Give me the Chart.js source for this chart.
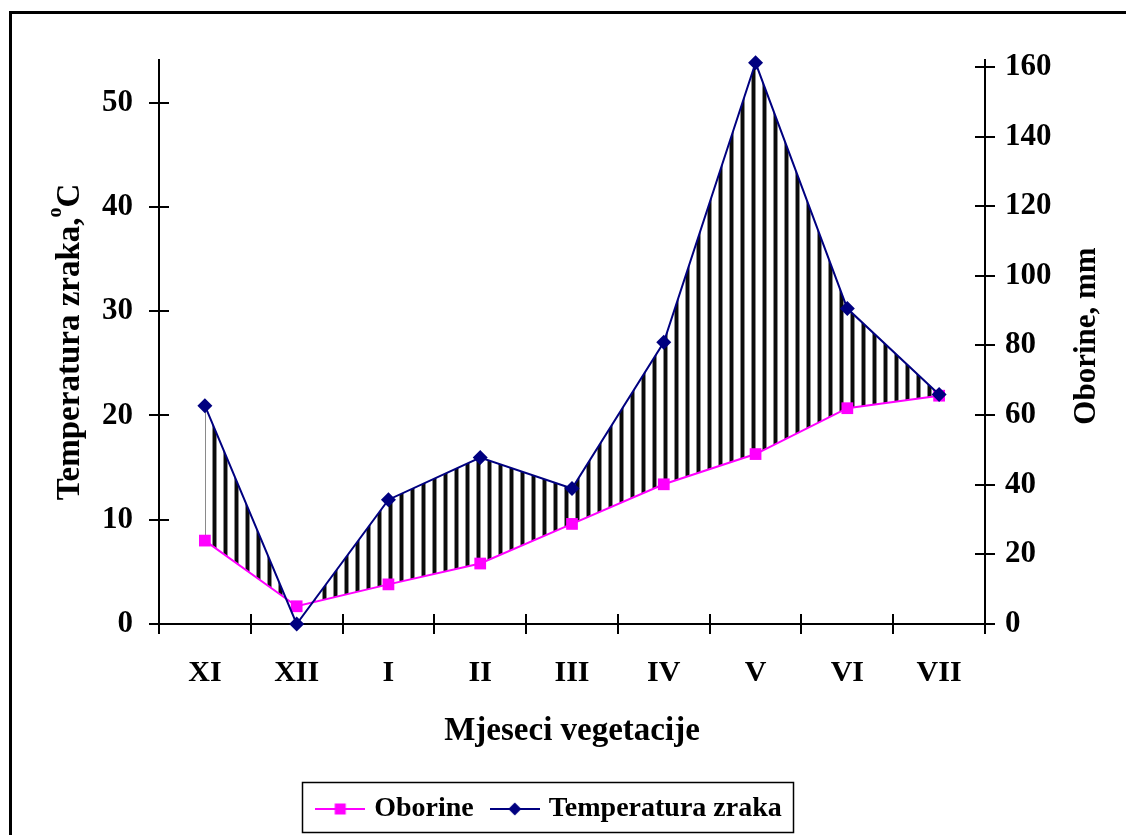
<!DOCTYPE html>
<html>
<head>
<meta charset="utf-8">
<script src="https://cdn.jsdelivr.net/npm/chart.js@4.4.1/dist/chart.umd.min.js"></script>
<style>
  html, body { margin: 0; padding: 0; background: #ffffff; overflow: hidden; }
  #frame { position: absolute; left: 9px; top: 11px; width: 1140px; height: 850px; border: 3px solid #000; box-sizing: border-box; }
  #wrap { position: absolute; left: 0; top: 0; width: 1126px; height: 835px; }
</style>
</head>
<body>
<div id="frame"></div>
<div id="wrap"><canvas id="c" width="1126" height="835"></canvas></div>
<script>
// ---- data ----
const months = ['XI', 'XII', 'I', 'II', 'III', 'IV', 'V', 'VI', 'VII'];
const oborine = [8.0, 1.7, 3.8, 5.8, 9.6, 13.4, 16.3, 20.7, 21.9];          // plotted on left axis
const temperatura = [62.7, 0, 35.7, 47.8, 38.9, 80.9, 161.2, 90.6, 65.9];   // plotted on right axis
const leftTicks = [0, 10, 20, 30, 40, 50];
const rightTicks = [0, 20, 40, 60, 80, 100, 120, 140, 160];
const seriesNames = ['Oborine', 'Temperatura zraka'];
const leftTitle = 'Temperatura zraka,';
const leftTitleSup = 'o';
const leftTitleEnd = 'C';
const rightTitle = 'Oborine, mm';
const xTitle = 'Mjeseci vegetacije';

const FONT = '"Liberation Serif", "Times New Roman", serif';
const PINK = '#ff00ff';
const NAVY = '#000080';

// hatch pattern
function makePattern() {
  const p = document.createElement('canvas');
  p.width = 11; p.height = 4;
  const g = p.getContext('2d');
  g.fillStyle = '#ffffff'; g.fillRect(0, 0, 11, 4);
  g.fillStyle = '#8a8a8a'; g.fillRect(3, 0, 1, 4); g.fillRect(7, 0, 1, 4);
  g.fillStyle = '#0a0a0a'; g.fillRect(4, 0, 3, 4);
  return document.getElementById('c').getContext('2d').createPattern(p, 'repeat');
}
const hatch = makePattern();

// legend symbols (line + marker)
function legendSymbol(color, shape) {
  const s = document.createElement('canvas');
  s.width = 50; s.height = 16;
  const g = s.getContext('2d');
  g.strokeStyle = color; g.lineWidth = 2;
  g.beginPath(); g.moveTo(0, 8); g.lineTo(50, 8); g.stroke();
  g.fillStyle = color;
  if (shape === 'rect') { g.fillRect(19.5, 2.5, 11, 11); }
  else { g.beginPath(); g.moveTo(25, 1.5); g.lineTo(31.5, 8); g.lineTo(25, 14.5); g.lineTo(18.5, 8); g.closePath(); g.fill(); }
  return s;
}
const symPink = legendSymbol(PINK, 'rect');
const symNavy = legendSymbol(NAVY, 'diamond');

const TICK = 10;

const decor = {
  id: 'decor',
  afterDraw(chart) {
    const ctx = chart.ctx;
    const a = chart.chartArea;
    const sx = chart.scales.x, sy = chart.scales.y, sy1 = chart.scales.y1;
    ctx.save();
    ctx.strokeStyle = '#000'; ctx.lineWidth = 2;
    ctx.beginPath();
    leftTicks.forEach(v => { const y = Math.round(sy.getPixelForValue(v)); ctx.moveTo(a.left - TICK, y); ctx.lineTo(a.left + TICK, y); });
    rightTicks.forEach(v => { const y = Math.round(sy1.getPixelForValue(v)); ctx.moveTo(a.right - TICK, y); ctx.lineTo(a.right + TICK, y); });
    for (let i = 0; i <= months.length; i++) {
      const x = Math.round(sx.getPixelForValue(i - 0.5));
      ctx.moveTo(x, a.bottom - TICK); ctx.lineTo(x, a.bottom + TICK);
    }
    ctx.stroke();

    // axis titles
    ctx.fillStyle = '#000';
    ctx.textBaseline = 'middle';
    // left title with superscript
    const f1 = 'bold 33px ' + FONT, f2 = 'bold 20px ' + FONT;
    ctx.font = f1; const w1 = ctx.measureText(leftTitle).width; const w3 = ctx.measureText(leftTitleEnd).width;
    ctx.font = f2; const w2 = ctx.measureText(leftTitleSup).width;
    const total = w1 + w2 + w3;
    const cy = (a.top + a.bottom) / 2;
    ctx.save();
    ctx.translate(70, cy);
    ctx.rotate(-Math.PI / 2);
    ctx.textAlign = 'left';
    ctx.font = f1; ctx.fillText(leftTitle, -total / 2, 0);
    ctx.font = f2; ctx.fillText(leftTitleSup, -total / 2 + w1, -14);
    ctx.font = f1; ctx.fillText(leftTitleEnd, -total / 2 + w1 + w2, 0);
    ctx.restore();
    // right title (reads bottom to top)
    ctx.save();
    ctx.translate(1087, cy - 6);
    ctx.rotate(-Math.PI / 2);
    ctx.textAlign = 'center';
    ctx.font = 'bold 31px ' + FONT; ctx.fillText(rightTitle, 0, 0);
    ctx.restore();
    // x title
    ctx.textAlign = 'center';
    ctx.font = f1;
    ctx.fillText(xTitle, 572, 731);

    // legend frame
    const lg = chart.legend;
    if (lg && lg.legendHitBoxes && lg.legendHitBoxes.length) {
      const hb = lg.legendHitBoxes;
      const l = Math.min(...hb.map(h => h.left)), r = Math.max(...hb.map(h => h.left + h.width));
      ctx.lineWidth = 1.5;
      const L = Math.round(l) - 17.5, R = Math.round(r) + 11.5;
      ctx.strokeRect(L, 782.5, R - L, 50);
    }
    ctx.restore();
  }
};

new Chart(document.getElementById('c'), {
  type: 'line',
  data: {
    labels: months,
    datasets: [
      {
        label: seriesNames[0], data: oborine, yAxisID: 'y', order: 1,
        borderColor: PINK, backgroundColor: PINK, borderWidth: 2,
        pointStyle: 'rect', pointRadius: 8.3, pointHoverRadius: 8.3,
        pointBackgroundColor: PINK, pointBorderColor: PINK, pointBorderWidth: 0,
        fill: false, tension: 0, clip: false
      },
      {
        label: seriesNames[1], data: temperatura, yAxisID: 'y1', order: 0,
        borderColor: NAVY, backgroundColor: hatch, borderWidth: 2,
        pointStyle: 'rectRot', pointRadius: 7.5, pointHoverRadius: 7.5,
        pointBackgroundColor: NAVY, pointBorderColor: NAVY, pointBorderWidth: 0,
        fill: { target: 0, above: hatch, below: 'rgba(0,0,0,0)' }, tension: 0, clip: false
      }
    ]
  },
  options: {
    responsive: false,
    animation: false,
    events: [],
    layout: { padding: { left: 0, right: 24, top: 60, bottom: 2 } },
    plugins: {
      filler: { drawTime: 'beforeDatasetsDraw' },
      tooltip: { enabled: false },
      legend: {
        position: 'bottom',
        labels: {
          font: { family: FONT, size: 28, weight: 'bold' },
          color: '#000',
          usePointStyle: true,
          pointStyleWidth: 40,
          padding: 21,
          sort: (a, b) => a.datasetIndex - b.datasetIndex,
          generateLabels: (chart) => chart.data.datasets.map((d, i) => ({
            text: d.label, datasetIndex: i,
            pointStyle: i === 0 ? symPink : symNavy,
            fillStyle: 'transparent', strokeStyle: 'transparent', lineWidth: 0,
            fontColor: '#000', hidden: false
          }))
        }
      }
    },
    scales: {
      x: {
        type: 'category', offset: true,
        grid: { display: false, offset: true },
        border: { display: true, color: '#000', width: 2 },
        ticks: { font: { family: FONT, size: 30, weight: 'bold' }, color: '#000', padding: 23, maxRotation: 0, autoSkip: false },
        afterFit: (s) => { s.height = 150; }
      },
      y: {
        position: 'left', min: 0, max: 54.1,
        grid: { display: false },
        border: { display: true, color: '#000', width: 2 },
        ticks: { stepSize: 10, includeBounds: false, font: { family: FONT, size: 31, weight: 'bold' }, color: '#000', padding: 18 },
        afterFit: (s) => { s.width = 159; }
      },
      y1: {
        position: 'right', min: 0, max: 162,
        grid: { display: false },
        border: { display: true, color: '#000', width: 2 },
        ticks: { stepSize: 20, includeBounds: false, font: { family: FONT, size: 31, weight: 'bold' }, color: '#000', padding: 12 },
        afterFit: (s) => { s.width = 117; }
      }
    }
  },
  plugins: [decor]
});
</script>
</body>
</html>
